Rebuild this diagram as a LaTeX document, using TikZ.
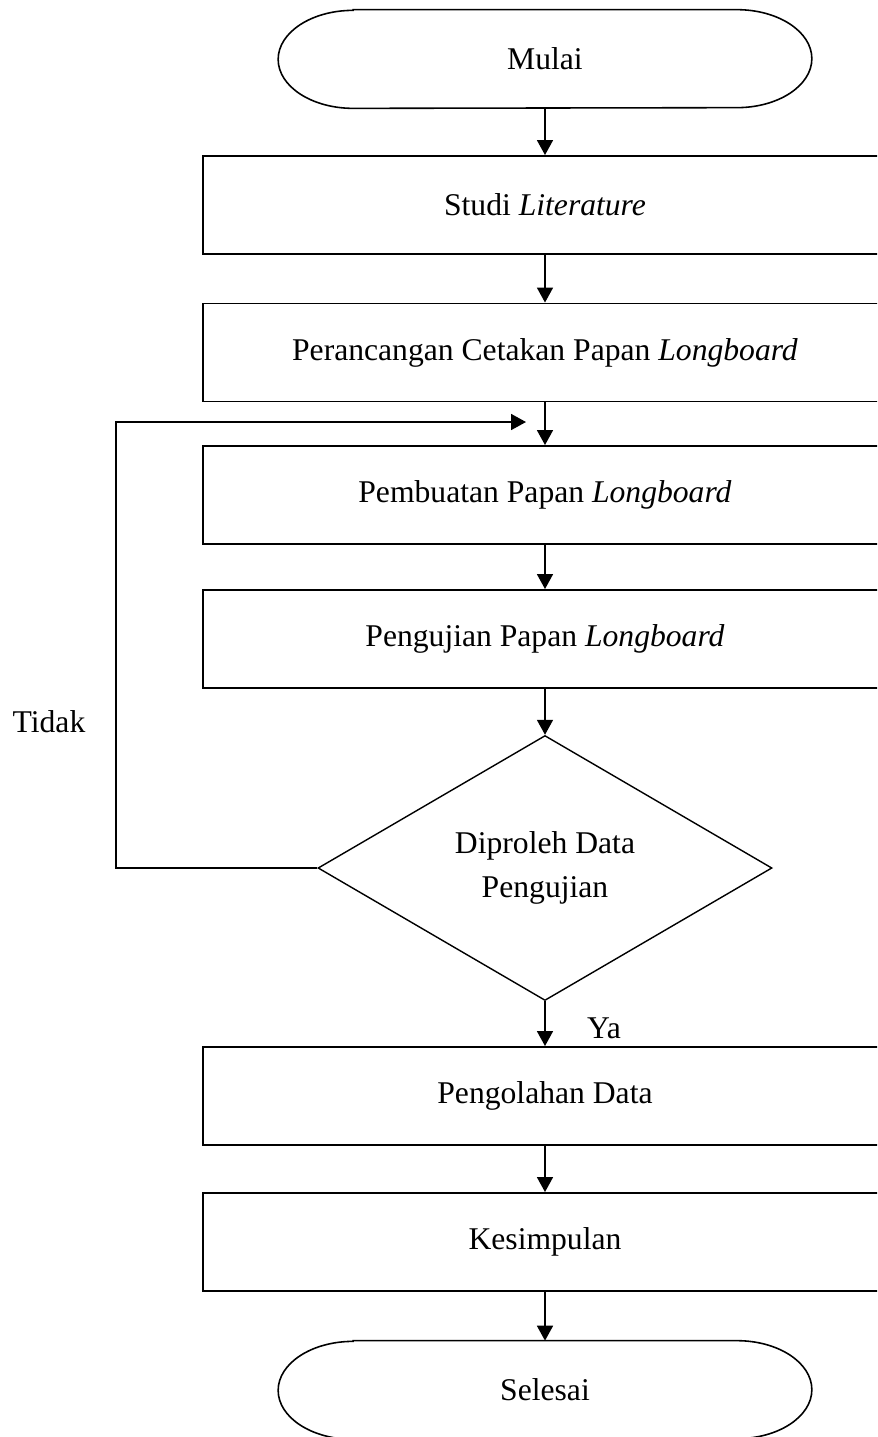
\documentclass[tikz,border=0pt]{standalone}
\usepackage{fontspec}
\setmainfont{Liberation Serif}
\usetikzlibrary{shapes.geometric,arrows.meta}

% stadium outline round a node
\newcommand\stadium[1]{%
\draw[line width=0.9pt] ([xshift=1.5cm]#1.north west) -- ([xshift=-1.5cm]#1.north east)
  arc[start angle=90, end angle=-90, x radius=1.5cm, y radius=0.98cm]
  -- ([xshift=1.5cm]#1.south west)
  arc[start angle=270, end angle=90, x radius=1.5cm, y radius=0.98cm] -- cycle;}

\begin{document}
\begin{tikzpicture}[font=\fontsize{18}{25}\selectfont,
  terminal/.style={minimum width=10.66cm, minimum height=1.96cm, inner sep=0pt},
  process/.style={draw, line width=1.1pt, minimum width=13.68cm, minimum height=1.96cm, inner sep=0pt},
  decision/.style={draw, diamond, line width=0.8pt, minimum width=9.08cm, minimum height=5.3cm, inner sep=0pt, align=center},
  arr/.style={line width=1pt, -{Triangle[length=0.3cm, width=0.32cm]}}]

\clip (0,0) rectangle (17.54,-28.74);

\node[terminal] (mulai) at (10.9,-1.18) {Mulai};
\stadium{mulai}
\node[process] (studi) at (10.9,-4.10) {Studi \textit{Literature}};
\node[process] (rancang) at (10.9,-7.05) {Perancangan Cetakan Papan \textit{Longboard}};
\node[process] (buat) at (10.9,-9.90) {Pembuatan Papan \textit{Longboard}};
\node[process] (uji) at (10.9,-12.78) {Pengujian Papan \textit{Longboard}};
\node[decision] (data) at (10.9,-17.36) {Diproleh Data\\Pengujian};
\node[process] (olah) at (10.9,-21.92) {Pengolahan Data};
\node[process] (simpul) at (10.9,-24.84) {Kesimpulan};
\node[terminal] (selesai) at (10.9,-27.80) {Selesai};
\stadium{selesai}

\draw[arr] (mulai) -- (studi);
\draw[arr] (studi) -- (rancang);
\draw[arr] (rancang) -- (buat);
\draw[arr] (buat) -- (uji);
\draw[arr] (uji) -- (data);
\draw[arr] (data) -- (olah);
\draw[arr] (olah) -- (simpul);
\draw[arr] (simpul) -- (selesai);

% loop back
\coordinate (kembali) at (10.52,-8.44);
\draw[arr] (data.west) -- (2.32,-17.36) |- (kembali);

\node (tidak) at (0.98,-14.44) {Tidak};
\node (ya) at (12.08,-20.56) {Ya};

\end{tikzpicture}
\end{document}
